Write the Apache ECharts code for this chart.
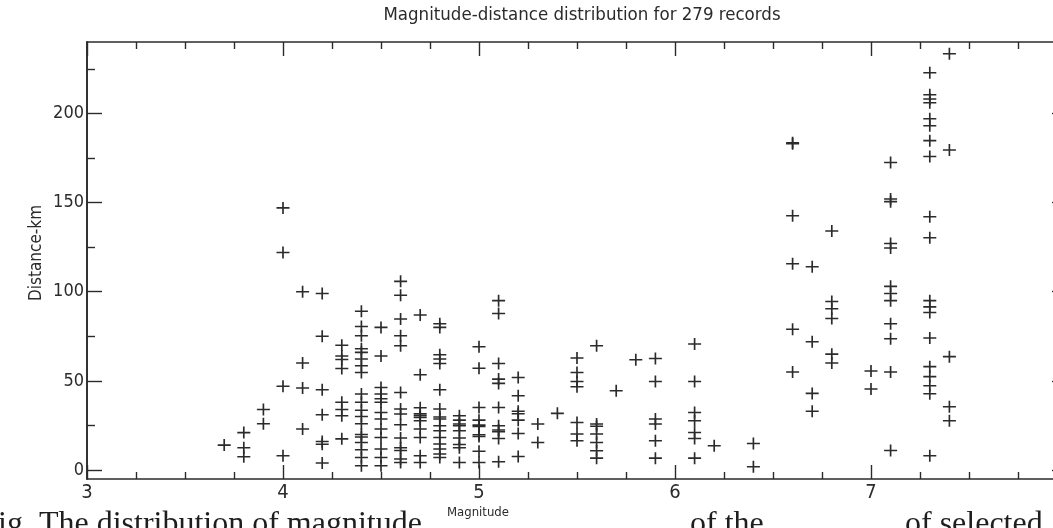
<!DOCTYPE html>
<html>
<head>
<meta charset="utf-8">
<script src="https://cdn.jsdelivr.net/npm/echarts@6/dist/echarts.min.js"></script>
<style>
  html, body { margin: 0; padding: 0; background: #ffffff; overflow: hidden; }
  /* the frame's right edge (magnitude 8) sits just past the visible page */
  #chart { width: 1070px; height: 528px; }
</style>
</head>
<body>
<div id="chart"></div>
<script>
// Magnitude of each record, grouped by magnitude column
const magnitudes = [
  3.7,
  3.8, 3.8, 3.8,
  3.9, 3.9,
  4.0, 4.0, 4.0, 4.0,
  4.1, 4.1, 4.1, 4.1,
  4.2, 4.2, 4.2, 4.2, 4.2, 4.2, 4.2,
  4.3, 4.3, 4.3, 4.3, 4.3, 4.3, 4.3, 4.3,
  4.4, 4.4, 4.4, 4.4, 4.4, 4.4, 4.4, 4.4, 4.4, 4.4, 4.4, 4.4, 4.4, 4.4, 4.4, 4.4, 4.4, 4.4, 4.4,
  4.5, 4.5, 4.5, 4.5, 4.5, 4.5, 4.5, 4.5, 4.5, 4.5, 4.5, 4.5, 4.5,
  4.6, 4.6, 4.6, 4.6, 4.6, 4.6, 4.6, 4.6, 4.6, 4.6, 4.6, 4.6, 4.6, 4.6,
  4.7, 4.7, 4.7, 4.7, 4.7, 4.7, 4.7, 4.7, 4.7, 4.7, 4.7,
  4.8, 4.8, 4.8, 4.8, 4.8, 4.8, 4.8, 4.8, 4.8, 4.8, 4.8, 4.8, 4.8, 4.8, 4.8, 4.8,
  4.9, 4.9, 4.9, 4.9, 4.9, 4.9, 4.9, 4.9, 4.9,
  5.0, 5.0, 5.0, 5.0, 5.0, 5.0, 5.0, 5.0, 5.0, 5.0,
  5.1, 5.1, 5.1, 5.1, 5.1, 5.1, 5.1, 5.1, 5.1, 5.1, 5.1,
  5.2, 5.2, 5.2, 5.2, 5.2, 5.2, 5.2,
  5.3, 5.3,
  5.4,
  5.5, 5.5, 5.5, 5.5, 5.5, 5.5, 5.5,
  5.6, 5.6, 5.6, 5.6, 5.6, 5.6, 5.6,
  5.7,
  5.8,
  5.9, 5.9, 5.9, 5.9, 5.9, 5.9,
  6.1, 6.1, 6.1, 6.1, 6.1, 6.1, 6.1,
  6.2,
  6.4, 6.4,
  6.6, 6.6, 6.6, 6.6, 6.6, 6.6,
  6.7, 6.7, 6.7, 6.7,
  6.8, 6.8, 6.8, 6.8, 6.8, 6.8,
  7.0, 7.0,
  7.1, 7.1, 7.1, 7.1, 7.1, 7.1, 7.1, 7.1, 7.1, 7.1, 7.1, 7.1,
  7.3, 7.3, 7.3, 7.3, 7.3, 7.3, 7.3, 7.3, 7.3, 7.3, 7.3, 7.3, 7.3, 7.3, 7.3, 7.3, 7.3, 7.3, 7.3,
  7.4, 7.4, 7.4, 7.4, 7.4
];

// Source-to-site distance (km) of each record, same order as magnitudes
const distances = [
  14,
  21, 12.5, 7.5,
  34, 26,
  147, 122, 47, 8,
  100, 60, 46, 23,
  99, 75, 45, 31, 16, 14.5, 4,
  70, 64, 62, 57, 38, 34, 30.5, 17.5,
  89, 80.5, 75.3, 68, 66, 62.3, 58.5, 54.7, 42.6, 38, 33.6, 30, 26, 20, 18.6, 15.5, 11.4, 7, 2.4,
  80, 64, 46.3, 42.6, 40, 38, 32.3, 28.6, 23, 18.3, 11.8, 7, 2.4,
  105.8, 98, 84.7, 75.3, 69.7, 43.5, 34.2, 31.4, 25.4, 18, 12.5, 11, 6.2, 4.3,
  87, 53.4, 35, 31.5, 30.5, 29.5, 27.7, 23, 18.3, 8, 4.3,
  82, 80, 64.7, 62.3, 59.8, 45, 34.2, 29.8, 28.6, 24.8, 22, 18.3, 14.6, 11.8, 9, 7,
  30.5, 28, 25.8, 24.8, 22, 18, 14.3, 12.5, 4.3,
  69.2, 57.1, 35.1, 28, 25.2, 24.4, 19.8, 18.8, 10.6, 4.3,
  95, 87.8, 59.8, 51, 48.6, 35.1, 24.8, 22.5, 21.5, 17.7, 4.7,
  51.9, 41.7, 33, 31.6, 28, 20.5, 7.6,
  25.8, 15.5,
  31.8,
  62.8, 54.7, 49.7, 46.7, 26.7, 20.2, 16.4,
  69.7, 25.8, 24.6, 20.2, 15.5, 10.8, 6.7,
  44.5,
  61.9,
  62.6, 49.7, 28.6, 25.8, 16.4, 6.7,
  70.7, 49.7, 32.3, 27.7, 21.1, 17.7, 6.7,
  13.6,
  14.9, 1.9,
  183.5, 183, 142.6, 115.7, 79, 55,
  114, 72, 43, 33,
  134, 94.5, 90.5, 85, 65, 60,
  55.5, 45.5,
  172.5, 152, 150.5, 127, 124.5, 103, 99, 95, 82, 73.6, 55, 11,
  222.8, 210.4, 208, 205.9, 197, 193, 184.7, 175.8, 142, 130.3, 95, 91.5, 88.3, 74, 58, 52.4, 47.3, 42.8, 8,
  233.4, 179.5, 63.6, 35.5, 27.7
];

// Tick values on the distance axis
const distanceLabelTicks = [0, 50, 100, 150, 200];
const distanceMinorTicks = [25, 75, 125, 175, 225];

const titleText = 'Magnitude-distance distribution for 279 records';
const xName = 'Magnitude';
const yName = 'Distance-km';
// Fragments of the printed caption line running under the figure
const captionParts = ['ig. The distribution of magnitude', 'of the', 'of selected'];

const points = magnitudes.map((m, i) => [m, distances[i]]);

const ink = '#2b2b2b';
const narrow = '"Liberation Sans Narrow", "DejaVu Sans Condensed", "Liberation Sans", sans-serif';
const serif = '"Liberation Serif", "DejaVu Serif", serif';
const plusPath = 'path://M-0.9,-7 H0.9 V-0.9 H7 V0.9 H0.9 V7 H-0.9 V0.9 H-7 V-0.9 H-0.9 Z';

const chart = echarts.init(document.getElementById('chart'), null, { renderer: 'canvas' });

const xCommon = {
  type: 'value', min: 3, max: 8, interval: 1,
  axisLine: { show: true, onZero: false, lineStyle: { color: ink, width: 1.6 } },
  axisTick: { show: true, inside: true, length: 14, lineStyle: { color: ink, width: 1.4 } },
  minorTick: { show: true, splitNumber: 4, length: 7, lineStyle: { color: ink, width: 1.4 } },
  splitLine: { show: false },
  minorSplitLine: { show: false }
};

const yCommon = {
  type: 'value', min: -5, max: 240,
  splitLine: { show: false },
  axisLine: { show: true, onZero: false, lineStyle: { color: ink, width: 1.6 } }
};

// caption fragments sit on one baseline just below the page edge
const captionX = [-2, 690, 905];
const captionGraphics = captionParts.map((t, i) => ({
  type: 'text', x: captionX[i], y: 541, silent: true, z: -1,
  style: { text: t, fill: '#1e1e1e', font: '32px ' + serif, textAlign: 'left', textVerticalAlign: 'bottom' }
}));

chart.setOption({
  backgroundColor: '#ffffff',
  animation: false,
  title: {
    text: titleText,
    left: 577, top: 1, textAlign: 'center',
    textStyle: { fontFamily: narrow, fontSize: 18.5, fontWeight: 'normal', color: ink }
  },
  grid: { left: 87, right: 3, top: 42, bottom: 49 },
  xAxis: [
    Object.assign({}, xCommon, {
      position: 'bottom',
      axisLabel: { show: true, margin: 4, color: ink, fontFamily: narrow, fontSize: 20,
        formatter: v => (v >= 8 ? '' : String(v)) }
    }),
    Object.assign({}, xCommon, {
      position: 'top',
      axisLabel: { show: false }
    })
  ],
  yAxis: [
    Object.assign({}, yCommon, {
      position: 'left',
      axisTick: { show: true, inside: true, length: 15, customValues: distanceLabelTicks,
        lineStyle: { color: ink, width: 1.4 } },
      axisLabel: { show: true, margin: 3, color: ink, fontFamily: narrow, fontSize: 18,
        customValues: distanceLabelTicks }
    }),
    Object.assign({}, yCommon, {
      position: 'left', offset: 0,
      axisTick: { show: true, inside: true, length: 8, customValues: distanceMinorTicks,
        lineStyle: { color: ink, width: 1.4 } },
      axisLabel: { show: false }
    }),
    Object.assign({}, yCommon, {
      position: 'right',
      axisTick: { show: true, inside: true, length: 15, customValues: distanceLabelTicks,
        lineStyle: { color: ink, width: 1.4 } },
      axisLabel: { show: false }
    })
  ],
  graphic: captionGraphics.concat([
    {
      type: 'text', x: 37, y: 253, rotation: Math.PI / 2,
      style: { text: yName, fill: ink, font: '17px ' + narrow, textAlign: 'center', textVerticalAlign: 'middle' }
    },
    {
      type: 'text', x: 478, y: 513,
      style: { text: xName, fill: ink, font: '13px ' + narrow, textAlign: 'center', textVerticalAlign: 'middle',
        backgroundColor: '#ffffff', padding: [1, 3] }
    }
  ]),
  series: [{
    type: 'scatter',
    xAxisIndex: 0, yAxisIndex: 0,
    data: points,
    symbol: plusPath,
    symbolSize: [13, 12],
    itemStyle: { color: ink, opacity: 1 },
    emphasis: { disabled: true }
  }]
});
</script>
</body>
</html>
